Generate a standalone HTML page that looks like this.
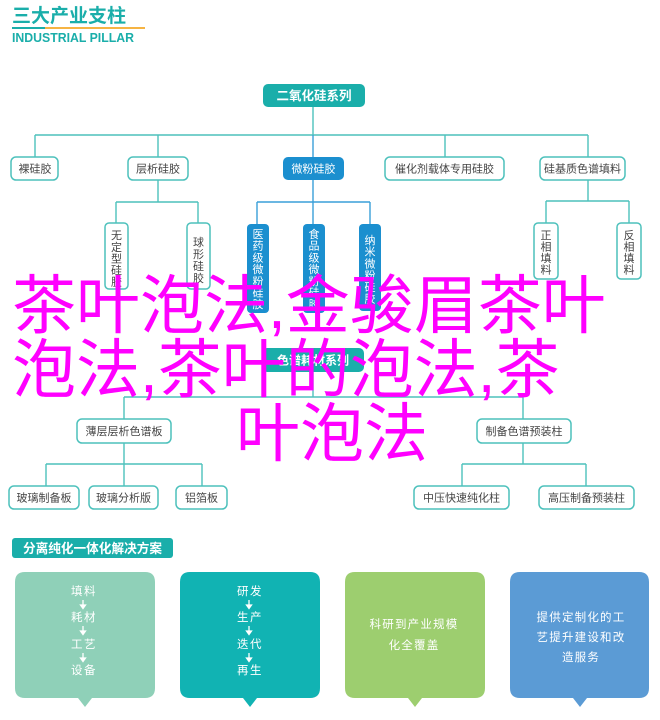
<!DOCTYPE html>
<html><head><meta charset="utf-8">
<style>
html,body{margin:0;padding:0;background:#fff;}
body{width:660px;height:720px;position:relative;overflow:hidden;}
svg{position:absolute;left:0;top:0;}
.mg{position:absolute;white-space:nowrap;color:#ff00ff;font-family:"Liberation Sans","Noto Sans CJK SC",sans-serif;font-size:64px;line-height:64px;}
</style></head>
<body>
<svg width="660" height="720" viewBox="0 0 660 720" font-family="Liberation Sans, Noto Sans CJK SC, sans-serif">
<!-- header -->
<text x="12" y="22" font-size="19" font-weight="bold" fill="#1aaeaa" textLength="114" lengthAdjust="spacingAndGlyphs">三大产业支柱</text>
<rect x="12" y="27" width="33" height="2" fill="#1aaeaa"/>
<rect x="45" y="27" width="100" height="2" fill="#f6b443"/>
<text x="12" y="42" font-size="12.5" font-weight="bold" fill="#1aaeaa" textLength="122" lengthAdjust="spacingAndGlyphs">INDUSTRIAL PILLAR</text>

<!-- connectors -->
<g stroke="#4dc1bc" stroke-width="1.4" fill="none">
<path d="M313 107 V135"/>
<path d="M35 135 H588"/>
<path d="M35 135 V157 M158 135 V157 M445 135 V157 M588 135 V157"/>
<path d="M158 180 V202 M116 202 H198 M116 202 V223 M198 202 V223"/>
<path d="M588 180 V201 M546 201 H629 M546 201 V223 M629 201 V223"/>
<path d="M313 372 V397 M124 397 H523 M124 397 V419 M523 397 V419"/>
<path d="M124 443 V464 M46 464 H202 M46 464 V486 M124 464 V486 M202 464 V486"/>
<path d="M523 443 V464 M462 464 H586 M462 464 V486 M586 464 V486"/>
</g>
<g stroke="#3a9fd8" stroke-width="1.4" fill="none">
<path d="M313 135 V157"/>
<path d="M313 180 V202 M257 202 H370 M257 202 V224 M313 202 V224 M370 202 V224"/>
</g>

<!-- top box -->
<rect x="263" y="84" width="102" height="23" rx="5" fill="#1aaeaa"/>
<text x="314" y="100" font-size="12.5" font-weight="bold" fill="#fff" text-anchor="middle">二氧化硅系列</text>

<!-- level 2 -->
<g fill="#fff" stroke="#4dc1bc" stroke-width="1.5">
<rect x="11" y="157" width="47" height="23" rx="5"/>
<rect x="128" y="157" width="60" height="23" rx="5"/>
<rect x="385" y="157" width="119" height="23" rx="5"/>
<rect x="540" y="157" width="85" height="23" rx="5"/>
</g>
<rect x="283" y="157" width="61" height="23" rx="5" fill="#1b8fcf"/>
<g font-size="11" fill="#444" text-anchor="middle">
<text x="35" y="172.5">裸硅胶</text>
<text x="158" y="172.5">层析硅胶</text>
<text x="444.5" y="172.5">催化剂载体专用硅胶</text>
<text x="582.5" y="172.5">硅基质色谱填料</text>
</g>
<text x="313.5" y="172.5" font-size="11" fill="#fff" text-anchor="middle">微粉硅胶</text>

<!-- level 3 vertical boxes -->
<g fill="#fff" stroke="#4dc1bc" stroke-width="1.5">
<rect x="105" y="223" width="23" height="66" rx="4"/>
<rect x="187" y="223" width="23" height="66" rx="4"/>
<rect x="534" y="223" width="24" height="56" rx="4"/>
<rect x="617" y="223" width="24" height="56" rx="4"/>
</g>
<g fill="#1b8fcf">
<rect x="247" y="224" width="22" height="89" rx="4"/>
<rect x="303" y="224" width="22" height="89" rx="4"/>
<rect x="359" y="224" width="22" height="87" rx="4"/>
</g>
<g font-size="11" fill="#444" text-anchor="middle">
<text x="116.5" y="239">无</text><text x="116.5" y="251">定</text><text x="116.5" y="262.5">型</text><text x="116.5" y="274">硅</text><text x="116.5" y="285.5">胶</text>
<text x="198.5" y="246">球</text><text x="198.5" y="258">形</text><text x="198.5" y="270">硅</text><text x="198.5" y="282">胶</text>
<text x="546" y="239">正</text><text x="546" y="250.5">相</text><text x="546" y="262">填</text><text x="546" y="273.5">料</text>
<text x="629" y="239">反</text><text x="629" y="250.5">相</text><text x="629" y="262">填</text><text x="629" y="273.5">料</text>
</g>
<g font-size="11" fill="#fff" text-anchor="middle">
<text x="258" y="238">医</text><text x="258" y="249.7">药</text><text x="258" y="261.4">级</text><text x="258" y="273.1">微</text><text x="258" y="284.8">粉</text><text x="258" y="296.5">硅</text><text x="258" y="308.2">胶</text>
<text x="314" y="238">食</text><text x="314" y="249.7">品</text><text x="314" y="261.4">级</text><text x="314" y="273.1">微</text><text x="314" y="284.8">粉</text><text x="314" y="296.5">硅</text><text x="314" y="308.2">胶</text>
<text x="370" y="244">纳</text><text x="370" y="255.7">米</text><text x="370" y="267.4">微</text><text x="370" y="279.1">粉</text><text x="370" y="290.8">硅</text><text x="370" y="302.5">胶</text>
</g>

<!-- hidden series box -->
<rect x="262" y="348" width="102" height="24" rx="5" fill="#1aaeaa"/>
<text x="313" y="364.5" font-size="12" font-weight="bold" fill="#fff" text-anchor="middle">色谱耗材系列</text>

<!-- lower tree boxes -->
<g fill="#fff" stroke="#4dc1bc" stroke-width="1.5">
<rect x="77" y="419" width="94" height="24" rx="5"/>
<rect x="477" y="419" width="94" height="24" rx="5"/>
<rect x="9" y="486" width="70" height="23" rx="5"/>
<rect x="89" y="486" width="69" height="23" rx="5"/>
<rect x="176" y="486" width="51" height="23" rx="5"/>
<rect x="414" y="486" width="95" height="23" rx="5"/>
<rect x="539" y="486" width="95" height="23" rx="5"/>
</g>
<g font-size="11" fill="#444" text-anchor="middle">
<text x="124" y="435">薄层层析色谱板</text>
<text x="524" y="435">制备色谱预装柱</text>
<text x="44" y="501.5">玻璃制备板</text>
<text x="123.5" y="501.5">玻璃分析版</text>
<text x="201.5" y="501.5">铝箔板</text>
<text x="461.5" y="501.5">中压快速纯化柱</text>
<text x="586.5" y="501.5">高压制备预装柱</text>
</g>

<!-- bottom section -->
<rect x="12" y="538" width="161" height="20" rx="3" fill="#1aaeaa"/>
<text x="92.5" y="553" font-size="13" font-weight="bold" fill="#fff" text-anchor="middle" textLength="139" lengthAdjust="spacingAndGlyphs">分离纯化一体化解决方案</text>

<path d="M25 572 H145 Q155 572 155 582 V688 Q155 698 145 698 H92 L85 707 L78 698 H25 Q15 698 15 688 V582 Q15 572 25 572 Z" fill="#8fd0b8"/>
<path d="M190 572 H310 Q320 572 320 582 V688 Q320 698 310 698 H257 L250 707 L243 698 H190 Q180 698 180 688 V582 Q180 572 190 572 Z" fill="#11b3b3"/>
<path d="M355 572 H475 Q485 572 485 582 V688 Q485 698 475 698 H422 L415 707 L408 698 H355 Q345 698 345 688 V582 Q345 572 355 572 Z" fill="#9dce6f"/>
<path d="M520 572 H639 Q649 572 649 582 V688 Q649 698 639 698 H587 L580 707 L573 698 H520 Q510 698 510 688 V582 Q510 572 520 572 Z" fill="#5b9bd5"/>

<g font-size="11.5" fill="#fff" text-anchor="middle" letter-spacing="1.5">
<text x="84" y="595">填料</text>
<text x="84" y="621">耗材</text>
<text x="84" y="648">工艺</text>
<text x="84" y="674">设备</text>
<text x="250" y="595">研发</text>
<text x="250" y="621">生产</text>
<text x="250" y="648">迭代</text>
<text x="250" y="674">再生</text>
</g>
<g stroke="#fff" stroke-width="1.3" fill="#fff">
<path d="M83 600 V606"/><path d="M80.5 605 L83 608.5 L85.5 605 Z"/>
<path d="M83 626 V632"/><path d="M80.5 631 L83 634.5 L85.5 631 Z"/>
<path d="M83 653 V659"/><path d="M80.5 658 L83 661.5 L85.5 658 Z"/>
<path d="M249 600 V606"/><path d="M246.5 605 L249 608.5 L251.5 605 Z"/>
<path d="M249 626 V632"/><path d="M246.5 631 L249 634.5 L251.5 631 Z"/>
<path d="M249 653 V659"/><path d="M246.5 658 L249 661.5 L251.5 658 Z"/>
</g>
<g font-size="11.5" fill="#fff" text-anchor="middle" letter-spacing="1.2">
<text x="414" y="628">科研到产业规模</text>
<text x="414" y="649">化全覆盖</text>
<text x="581" y="621">提供定制化的工</text>
<text x="581" y="641">艺提升建设和改</text>
<text x="581" y="661">造服务</text>
</g>
</svg>

<div class="mg" style="left:12px;top:274px;">茶叶泡法,金骏眉茶叶</div>
<div class="mg" style="left:12px;top:338px;">泡法,茶叶的泡法,茶</div>
<div class="mg" style="left:236px;top:402px;">叶泡法</div>
</body></html>
